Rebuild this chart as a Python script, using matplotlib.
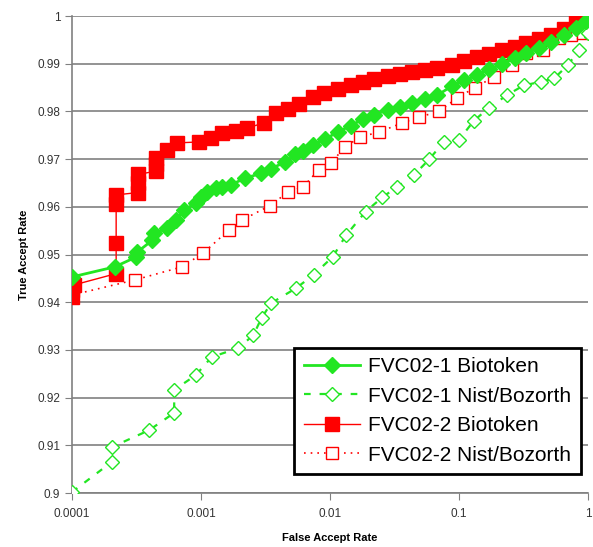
import numpy as np
import matplotlib
matplotlib.use('Agg')
import matplotlib.pyplot as plt
from matplotlib.ticker import FixedLocator, FixedFormatter, NullLocator

plt.rcParams['font.family'] = ['Liberation Sans', 'DejaVu Sans']

# FVC02-1 Biotoken (green, filled diamonds)
g_bio_far = [1.0e-4, 2.14e-4, 3.16e-4, 3.2e-4, 4.2e-4, 4.3e-4, 5.5e-4, 6.4e-4, 7.4e-4, 9.1e-4,
             1.0e-3, 1.11e-3, 1.3e-3, 1.45e-3, 1.7e-3, 2.2e-3, 2.9e-3, 3.5e-3, 4.5e-3, 5.4e-3,
             6.2e-3, 7.4e-3, 9.2e-3, 0.0115, 0.0145, 0.018, 0.022, 0.028, 0.035, 0.043,
             0.055, 0.068, 0.088, 0.11, 0.137, 0.17, 0.214, 0.27, 0.333, 0.42,
             0.52, 0.65, 0.81, 0.96]
g_bio_tar = [0.9453, 0.9474, 0.9495, 0.9505, 0.9530, 0.9545, 0.9555, 0.9572, 0.9593, 0.9608,
             0.9620, 0.9631, 0.9640, 0.9642, 0.9646, 0.9660, 0.9670, 0.9680, 0.9694, 0.9710,
             0.9718, 0.9730, 0.9742, 0.9757, 0.9770, 0.9784, 0.9793, 0.9803, 0.9810, 0.9818,
             0.9825, 0.9834, 0.9853, 0.9865, 0.9876, 0.9888, 0.9899, 0.9911, 0.9922, 0.9934,
             0.9945, 0.9960, 0.9975, 0.9990]

# FVC02-1 Nist/Bozorth (green, open diamonds)
g_nist_far = [1.0e-4, 2.03e-4, 2.03e-4, 3.98e-4, 6.2e-4, 6.2e-4, 9.1e-4, 1.21e-3, 1.95e-3, 2.55e-3,
              2.95e-3, 3.5e-3, 5.5e-3, 7.5e-3, 0.0105, 0.0133, 0.0189, 0.0255, 0.0333, 0.045,
              0.059, 0.0762, 0.10, 0.13, 0.17, 0.235, 0.32, 0.435, 0.55, 0.7, 0.85, 1.0]
g_nist_tar = [0.9002, 0.9065, 0.9096, 0.9132, 0.9168, 0.9216, 0.9247, 0.9285, 0.9304, 0.9331,
              0.9367, 0.9398, 0.9430, 0.9458, 0.9495, 0.9540, 0.9590, 0.9620, 0.9642, 0.9667,
              0.9700, 0.9736, 0.9740, 0.9780, 0.9807, 0.9834, 0.9855, 0.9862, 0.9870, 0.9897,
              0.9929, 0.9965]

# FVC02-2 Biotoken (red, filled squares)
r_bio_far = [1.0e-4, 1.0e-4, 1.03e-4, 2.2e-4, 2.2e-4, 2.2e-4, 2.2e-4, 3.27e-4, 3.27e-4, 3.27e-4,
             4.5e-4, 4.5e-4, 4.5e-4, 5.5e-4, 6.5e-4, 9.7e-4, 1.19e-3, 1.45e-3, 1.86e-3, 2.26e-3,
             3.1e-3, 3.8e-3, 4.75e-3, 5.8e-3, 7.4e-3, 9.0e-3, 0.0115, 0.0145, 0.018, 0.022,
             0.028, 0.035, 0.043, 0.055, 0.068, 0.088, 0.11, 0.137, 0.17, 0.214,
             0.27, 0.333, 0.42, 0.52, 0.65, 0.81, 1.0]
r_bio_tar = [0.9410, 0.9425, 0.9436, 0.9460, 0.9525, 0.9605, 0.9625, 0.9630, 0.9650, 0.9668,
             0.9675, 0.9690, 0.9703, 0.9719, 0.9734, 0.9736, 0.9744, 0.9755, 0.9760, 0.9765,
             0.9776, 0.9797, 0.9805, 0.9815, 0.9830, 0.9838, 0.9847, 0.9855, 0.9862, 0.9868,
             0.9874, 0.9879, 0.9883, 0.9887, 0.9890, 0.9897, 0.9905, 0.9914, 0.9921, 0.9929,
             0.9936, 0.9943, 0.9951, 0.9960, 0.9972, 0.9987, 1.0]

# FVC02-2 Nist/Bozorth (red, open squares)
r_nist_far = [1.0e-4, 3.1e-4, 7.1e-4, 1.04e-3, 1.64e-3, 2.07e-3, 3.4e-3, 4.75e-3, 6.2e-3, 8.2e-3,
              0.0102, 0.013, 0.017, 0.0242, 0.0364, 0.049, 0.07, 0.0966, 0.133, 0.186,
              0.26, 0.33, 0.45, 0.6, 0.74, 0.91]
r_nist_tar = [0.9415, 0.9447, 0.9474, 0.9503, 0.9551, 0.9572, 0.9602, 0.9631, 0.9642, 0.9678,
              0.9692, 0.9725, 0.9746, 0.9757, 0.9776, 0.9788, 0.9800, 0.9828, 0.9850, 0.9872,
              0.9897, 0.9922, 0.9929, 0.9954, 0.9960, 0.9964]

x_ticks = [0.0001, 0.001, 0.01, 0.1, 1]
x_labels = ['0.0001', '0.001', '0.01', '0.1', '1']
y_ticks = [0.9, 0.91, 0.92, 0.93, 0.94, 0.95, 0.96, 0.97, 0.98, 0.99, 1.0]
y_labels = ['0.9', '0.91', '0.92', '0.93', '0.94', '0.95', '0.96', '0.97', '0.98', '0.99', '1']

green = '#22e622'
red = '#ff0000'

fig = plt.figure(figsize=(5.93, 5.47), dpi=100)
ax = fig.add_axes([0.1214, 0.0987, 0.870, 0.872])

ax.plot(r_nist_far, r_nist_tar, color=red, linestyle=(0, (1, 3)), linewidth=1.2,
        marker='s', markersize=8, markerfacecolor='white', markeredgecolor=red,
        markeredgewidth=1.0, label='FVC02-2 Nist/Bozorth', zorder=3)
ax.plot(g_nist_far, g_nist_tar, color=green, linestyle=(0, (3, 4)), linewidth=1.6,
        marker='D', markersize=7, markerfacecolor='white', markeredgecolor=green,
        markeredgewidth=1.0, label='FVC02-1 Nist/Bozorth', zorder=3)
ax.plot(r_bio_far, r_bio_tar, color=red, linestyle='-', linewidth=1.0,
        marker='s', markersize=10, markerfacecolor=red, markeredgecolor=red,
        label='FVC02-2 Biotoken', zorder=4)
ax.plot(g_bio_far, g_bio_tar, color=green, linestyle='-', linewidth=2.0,
        marker='D', markersize=8.5, markerfacecolor=green, markeredgecolor=green,
        label='FVC02-1 Biotoken', zorder=5)

ax.set_xscale('log')
ax.set_xlim(0.0001, 1)
ax.set_ylim(0.9, 1.0)
ax.xaxis.set_major_locator(FixedLocator(x_ticks))
ax.xaxis.set_major_formatter(FixedFormatter(x_labels))
ax.xaxis.set_minor_locator(NullLocator())
ax.yaxis.set_major_locator(FixedLocator(y_ticks))
ax.yaxis.set_major_formatter(FixedFormatter(y_labels))

ax.grid(True, axis='y', color='#808080', linewidth=1.2)
ax.set_axisbelow(True)
for s in ['top', 'right']:
    ax.spines[s].set_visible(False)
for s in ['left', 'bottom']:
    ax.spines[s].set_color('#808080')
    ax.spines[s].set_linewidth(1.2)
ax.tick_params(axis='both', direction='out', length=5, color='#808080', labelsize=8.5,
               labelcolor='#333333')
ax.tick_params(axis='x', pad=6)

ax.set_xlabel('False Accept Rate', fontsize=8, fontweight='bold', labelpad=9)
ax.set_ylabel('True Accept Rate', fontsize=8, fontweight='bold', labelpad=6)

handles, labels = ax.get_legend_handles_labels()
order = [3, 1, 2, 0]
leg = ax.legend([handles[i] for i in order], [labels[i] for i in order],
                loc='lower right', bbox_to_anchor=(0.986, 0.04), fontsize=15,
                frameon=True, fancybox=False, handlelength=2.7, handletextpad=0.4,
                borderpad=0.45, labelspacing=0.5, borderaxespad=0)
leg.get_frame().set_edgecolor('black')
leg.get_frame().set_linewidth(2.0)
leg.get_frame().set_alpha(1)

fig.savefig('out.png', dpi=100)
